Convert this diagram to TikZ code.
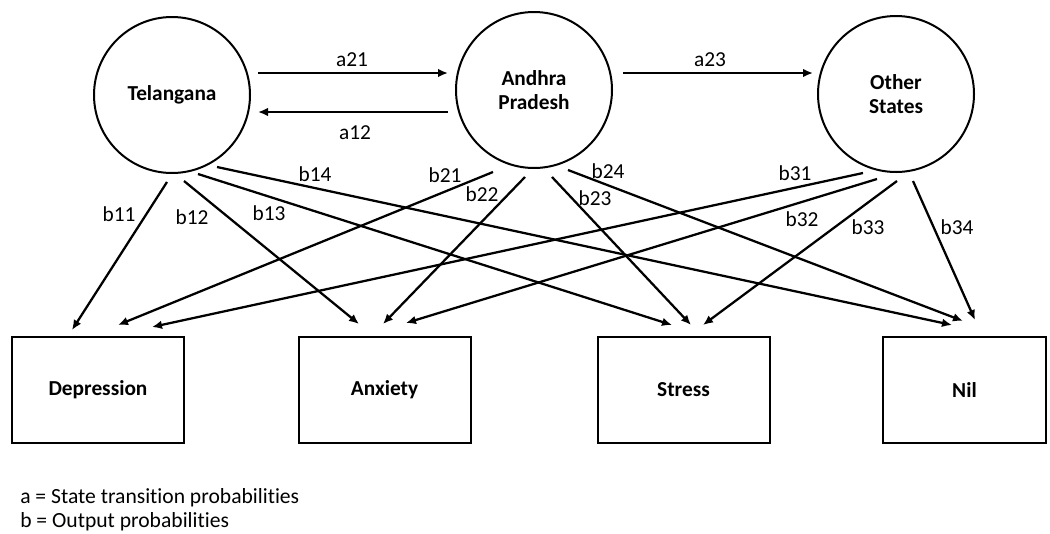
\documentclass[tikz,border=0pt]{standalone}
\usepackage{fontspec}
\setmainfont{Carlito}[Ligatures=NoCommon]
\usetikzlibrary{arrows.meta,calc}
\tikzset{
  statenode/.style={draw, circle, line width=1.5pt, minimum size=117pt, inner sep=0pt, font=\bfseries\fontsize{16}{18}\selectfont, align=center},
  outbox/.style={draw, rectangle, line width=1.5pt, minimum width=129pt, minimum height=79.5pt, inner sep=0pt, font=\bfseries\fontsize{16}{18}\selectfont},
  arr/.style={line width=1.7pt, -{Latex[length=7.5pt,width=6.5pt]}},
  lbl/.style={font=\fontsize{16}{18}\selectfont, inner sep=0pt},
  legend/.style={font=\fontsize{16.2}{18}\selectfont, inner sep=0pt, anchor=west}
}
\begin{document}
\begin{tikzpicture}[x=0.75pt,y=-0.75pt]
\useasboundingbox (0,0) rectangle (1050,533);
% states
\node[statenode] (T) at (172,95) {Telangana};
\node[statenode] (A) at (534,90) {Andhra\\Pradesh};
\node[statenode] (O) at (896,94) {Other\\States};
% outputs
\node[outbox] (Dep) at (98,390) {Depression};
\node[outbox] (Anx) at (384.5,390) {Anxiety};
\node[outbox] (Str) at (683.5,390) {Stress};
\node[outbox, minimum width=122pt] (Nil) at (964.5,390) {Nil};
% transitions
\draw[arr] ($(T)+(86,-22)$) -- ($(A)+(-86,-17)$);
\draw[arr] ($(A)+(-86,22)$) -- ($(T)+(86,17)$);
\draw[arr] ($(A)+(89,-17)$) -- ($(O)+(-83,-21)$);
\node[lbl] (la21) at (352,60) {a21};
\node[lbl] (la12) at (355,133) {a12};
\node[lbl] (la23) at (710,60) {a23};
% emissions from Telangana
\draw[arr] ($(T)+(-5,87)$) -- ($(Dep.north)+(-26,-6)$);
\draw[arr] ($(T)+(12,86)$) -- ($(Anx.north)+(-25.5,-12)$);
\draw[arr] ($(T)+(26,79)$) -- ($(Str.north)+(-11.5,-11)$);
\draw[arr] ($(T)+(45,72)$) -- ($(Nil.north)+(-12.5,-11)$);
% emissions from Andhra Pradesh
\draw[arr] ($(A)+(-41,82)$) -- ($(Dep.north)+(20,-11)$);
\draw[arr] ($(A)+(-9,87)$) -- ($(Anx.north)+(-1.5,-12)$);
\draw[arr] ($(A)+(18,87)$) -- ($(Str.north)+(7.5,-11)$);
\draw[arr] ($(A)+(34,80)$) -- ($(Nil.north)+(-1.5,-15)$);
% emissions from Other States
\draw[arr] ($(O)+(-33,79)$) -- ($(Dep.north)+(54,-9)$);
\draw[arr] ($(O)+(-19,85)$) -- ($(Anx.north)+(21.5,-13)$);
\draw[arr] ($(O)+(1,87)$) -- ($(Str.north)+(19.5,-11)$);
\draw[arr] ($(O)+(17,87)$) -- ($(Nil.north)+(10.5,-16)$);
% labels
\node[lbl] (lb11) at (119,214) {b11};
\node[lbl] (lb12) at (192,217) {b12};
\node[lbl] (lb13) at (269,213) {b13};
\node[lbl] (lb14) at (315,174) {b14};
\node[lbl] (lb21) at (445,175) {b21};
\node[lbl] (lb22) at (482,194) {b22};
\node[lbl] (lb23) at (595,198) {b23};
\node[lbl] (lb24) at (608,171) {b24};
\node[lbl] (lb31) at (795,173) {b31};
\node[lbl] (lb32) at (802,219) {b32};
\node[lbl] (lb33) at (868,227) {b33};
\node[lbl] (lb34) at (957,227) {b34};
% legend
\node[legend] (leg1) at (20,498) {a = State transition probabilities};
\node[legend] (leg2) at (20,522) {b = Output probabilities};
\end{tikzpicture}
\end{document}
